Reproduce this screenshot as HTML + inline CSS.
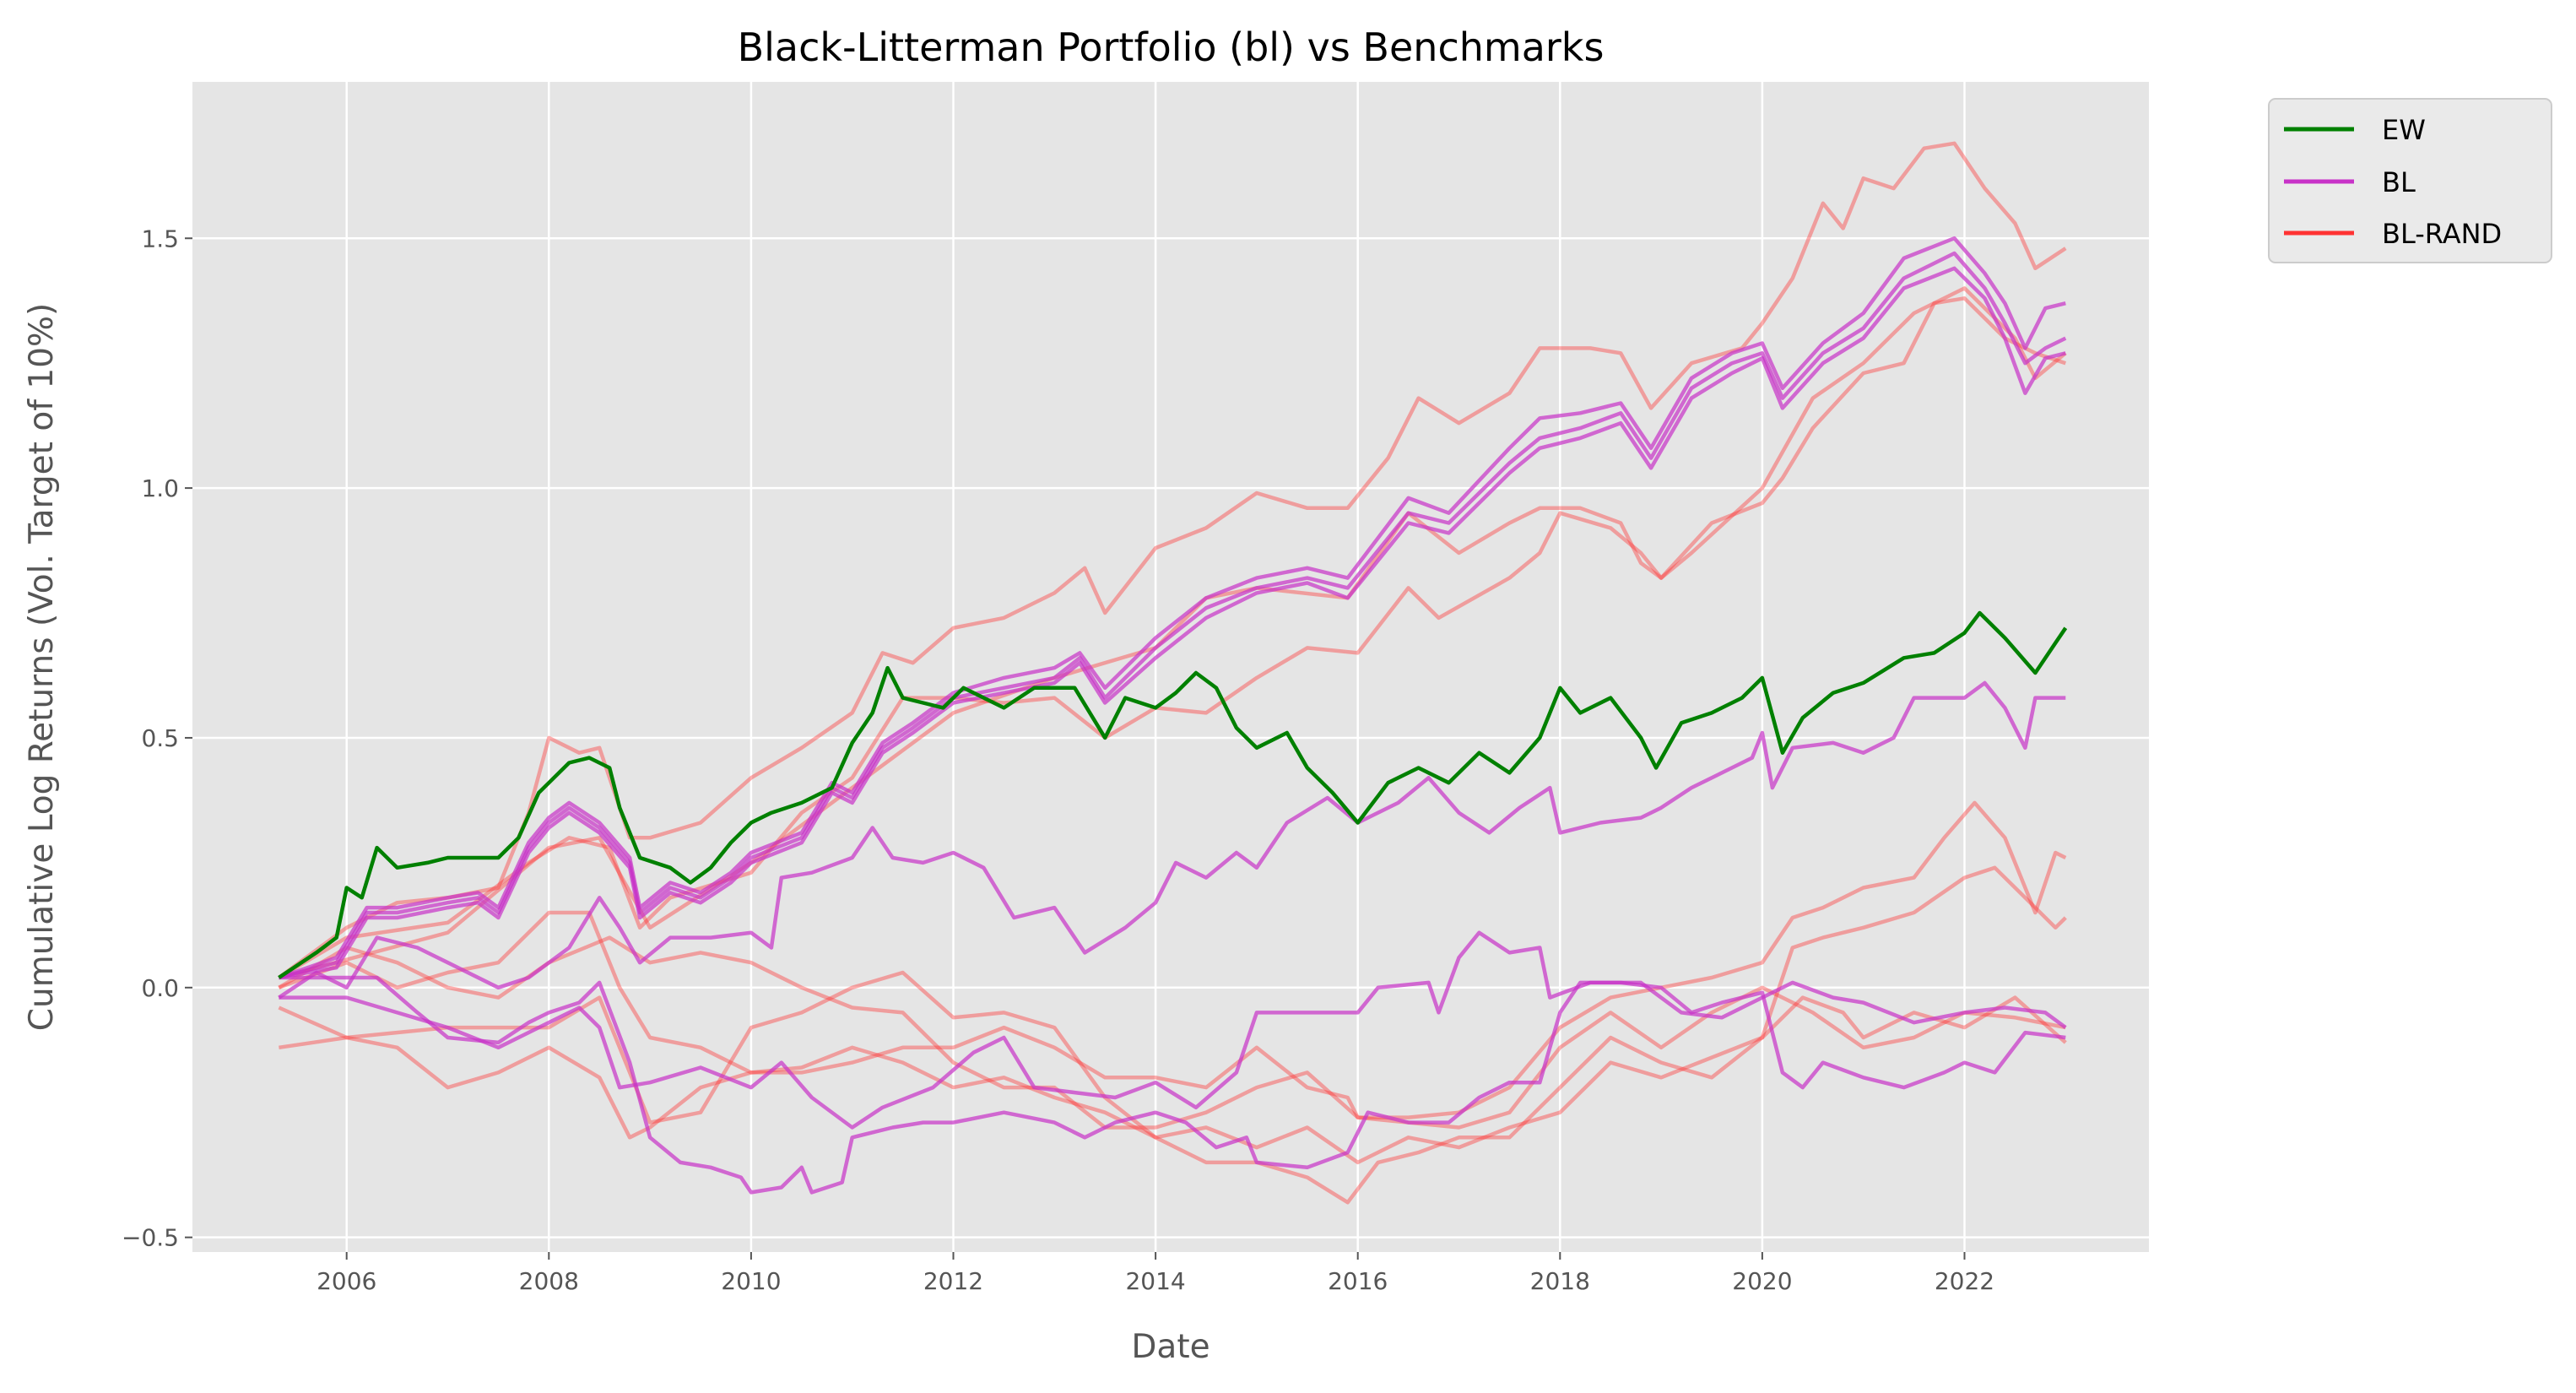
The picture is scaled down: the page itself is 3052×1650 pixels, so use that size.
<!DOCTYPE html>
<html><head><meta charset="utf-8"><style>
html,body{margin:0;padding:0;background:#fff;}
svg{display:block;font-family:"DejaVu Sans","Liberation Sans",sans-serif;}
</style></head><body>
<svg id="chart" width="3052" height="1650" viewBox="0 0 3052 1650" xmlns="http://www.w3.org/2000/svg">
<rect x="228" y="97" width="2318" height="1386" fill="#e5e5e5"/>
<g id="grid"></g>
<g id="series"></g>
<g id="axes"></g>
<text x="1387" y="72" font-size="46" text-anchor="middle" fill="#000">Black-Litterman Portfolio (bl) vs Benchmarks</text>
<text x="1387" y="1608" font-size="39" text-anchor="middle" fill="#555">Date</text>
<text transform="translate(62,790) rotate(-90)" font-size="39" text-anchor="middle" fill="#555">Cumulative Log Returns (Vol. Target of 10%)</text>
<g>
<rect x="2688" y="117" width="335" height="194" rx="8" fill="#e5e5e5" fill-opacity="0.8" stroke="#ccc" stroke-width="2"/>
<line x1="2706" y1="153" x2="2789" y2="153" stroke="#008000" stroke-width="5"/>
<text x="2822" y="165" font-size="32" fill="#000">EW</text>
<line x1="2706" y1="215" x2="2789" y2="215" stroke="#c832c8" stroke-width="5"/>
<text x="2822" y="227" font-size="32" fill="#000">BL</text>
<line x1="2706" y1="276" x2="2789" y2="276" stroke="#ff3333" stroke-width="5"/>
<text x="2822" y="288" font-size="32" fill="#000">BL-RAND</text>
</g>
</svg>
<script>
const xTicks=[2006,2008,2010,2012,2014,2016,2018,2020,2022];
const yTicks=[-0.5,0,0.5,1.0,1.5];
const yTickLabels=["\u22120.5","0.0","0.5","1.0","1.5"];

const ewT=[2005.33,2005.7,2005.9,2006.0,2006.15,2006.3,2006.5,2006.8,2007.0,2007.5,2007.7,2007.9,2008.0,2008.2,2008.4,2008.6,2008.7,2008.9,2009.2,2009.4,2009.6,2009.8,2010.0,2010.2,2010.5,2010.8,2011.0,2011.2,2011.35,2011.5,2011.7,2011.9,2012.1,2012.5,2012.8,2013.2,2013.5,2013.7,2014.0,2014.2,2014.4,2014.6,2014.8,2015.0,2015.3,2015.5,2015.75,2016.0,2016.3,2016.6,2016.9,2017.2,2017.5,2017.8,2018.0,2018.2,2018.5,2018.8,2018.95,2019.2,2019.5,2019.8,2020.0,2020.2,2020.4,2020.7,2021.0,2021.4,2021.7,2022.0,2022.15,2022.4,2022.7,2022.9,2023.0];
const ewV=[0.02,0.07,0.10,0.20,0.18,0.28,0.24,0.25,0.26,0.26,0.30,0.39,0.41,0.45,0.46,0.44,0.36,0.26,0.24,0.21,0.24,0.29,0.33,0.35,0.37,0.40,0.49,0.55,0.64,0.58,0.57,0.56,0.60,0.56,0.60,0.60,0.50,0.58,0.56,0.59,0.63,0.60,0.52,0.48,0.51,0.44,0.39,0.33,0.41,0.44,0.41,0.47,0.43,0.50,0.60,0.55,0.58,0.50,0.44,0.53,0.55,0.58,0.62,0.47,0.54,0.59,0.61,0.66,0.67,0.71,0.75,0.70,0.63,0.69,0.72];

const blT=[2005.33,2005.9,2006.2,2006.5,2007.0,2007.3,2007.5,2007.8,2008.0,2008.2,2008.5,2008.8,2008.9,2009.2,2009.5,2009.8,2010.0,2010.5,2010.8,2011.0,2011.3,2011.6,2012.0,2012.5,2013.0,2013.25,2013.5,2014.0,2014.5,2015.0,2015.5,2015.9,2016.5,2016.9,2017.5,2017.8,2018.2,2018.6,2018.9,2019.3,2019.7,2020.0,2020.2,2020.6,2021.0,2021.4,2021.9,2022.2,2022.4,2022.6,2022.8,2023.0];
const bl1V=[0.02,0.06,0.16,0.16,0.18,0.19,0.16,0.29,0.34,0.37,0.33,0.26,0.16,0.21,0.19,0.23,0.27,0.31,0.41,0.39,0.49,0.53,0.59,0.62,0.64,0.67,0.60,0.70,0.78,0.82,0.84,0.82,0.98,0.95,1.08,1.14,1.15,1.17,1.08,1.22,1.27,1.29,1.20,1.29,1.35,1.46,1.50,1.43,1.37,1.28,1.36,1.37];
const bl2V=[0.02,0.05,0.15,0.15,0.17,0.18,0.15,0.28,0.33,0.36,0.32,0.25,0.15,0.20,0.18,0.22,0.26,0.30,0.40,0.38,0.48,0.52,0.58,0.60,0.62,0.66,0.58,0.68,0.76,0.80,0.82,0.80,0.95,0.93,1.05,1.10,1.12,1.15,1.06,1.20,1.25,1.27,1.18,1.27,1.32,1.42,1.47,1.40,1.33,1.25,1.28,1.30];
const bl3V=[0.02,0.04,0.14,0.14,0.16,0.17,0.14,0.27,0.32,0.35,0.31,0.24,0.14,0.19,0.17,0.21,0.25,0.29,0.39,0.37,0.47,0.51,0.57,0.59,0.61,0.65,0.57,0.66,0.74,0.79,0.81,0.78,0.93,0.91,1.03,1.08,1.10,1.13,1.04,1.18,1.23,1.26,1.16,1.25,1.30,1.40,1.44,1.38,1.30,1.19,1.26,1.27];

const bl4T=[2005.33,2005.7,2006.0,2006.3,2006.7,2007.0,2007.5,2007.8,2008.2,2008.5,2008.7,2008.9,2009.2,2009.6,2010.0,2010.2,2010.3,2010.6,2011.0,2011.2,2011.4,2011.7,2012.0,2012.3,2012.6,2013.0,2013.3,2013.7,2014.0,2014.2,2014.5,2014.8,2015.0,2015.3,2015.7,2016.0,2016.4,2016.7,2017.0,2017.3,2017.6,2017.9,2018.0,2018.4,2018.8,2019.0,2019.3,2019.6,2019.9,2020.0,2020.1,2020.3,2020.7,2021.0,2021.3,2021.5,2021.8,2022.0,2022.2,2022.4,2022.6,2022.7,2023.0];
const bl4V=[-0.02,0.03,0.00,0.10,0.08,0.05,0.00,0.02,0.08,0.18,0.12,0.05,0.10,0.10,0.11,0.08,0.22,0.23,0.26,0.32,0.26,0.25,0.27,0.24,0.14,0.16,0.07,0.12,0.17,0.25,0.22,0.27,0.24,0.33,0.38,0.33,0.37,0.42,0.35,0.31,0.36,0.40,0.31,0.33,0.34,0.36,0.40,0.43,0.46,0.51,0.40,0.48,0.49,0.47,0.50,0.58,0.58,0.58,0.61,0.56,0.48,0.58,0.58];

const bl5T=[2005.33,2005.8,2006.3,2006.7,2007.0,2007.5,2007.8,2008.0,2008.3,2008.5,2008.8,2009.0,2009.3,2009.6,2009.9,2010.0,2010.3,2010.5,2010.6,2010.9,2011.0,2011.4,2011.7,2012.0,2012.5,2013.0,2013.3,2013.6,2014.0,2014.3,2014.6,2014.9,2015.0,2015.5,2015.9,2016.1,2016.5,2016.9,2017.2,2017.5,2017.8,2018.0,2018.2,2018.6,2019.0,2019.3,2019.6,2020.0,2020.2,2020.4,2020.6,2021.0,2021.4,2021.8,2022.0,2022.3,2022.6,2023.0];
const bl5V=[0.02,0.02,0.02,-0.05,-0.10,-0.11,-0.07,-0.05,-0.03,0.01,-0.15,-0.30,-0.35,-0.36,-0.38,-0.41,-0.40,-0.36,-0.41,-0.39,-0.30,-0.28,-0.27,-0.27,-0.25,-0.27,-0.30,-0.27,-0.25,-0.27,-0.32,-0.30,-0.35,-0.36,-0.33,-0.25,-0.27,-0.27,-0.22,-0.19,-0.19,-0.05,0.01,0.01,0.00,-0.05,-0.03,-0.01,-0.17,-0.20,-0.15,-0.18,-0.20,-0.17,-0.15,-0.17,-0.09,-0.10];

const bl6T=[2005.33,2006.0,2006.5,2007.0,2007.5,2008.0,2008.3,2008.5,2008.7,2009.0,2009.5,2010.0,2010.3,2010.6,2011.0,2011.3,2011.8,2012.2,2012.5,2012.8,2013.2,2013.6,2014.0,2014.4,2014.8,2015.0,2015.5,2016.0,2016.2,2016.7,2016.8,2017.0,2017.2,2017.5,2017.8,2017.9,2018.3,2018.8,2019.2,2019.6,2020.0,2020.3,2020.7,2021.0,2021.5,2022.0,2022.4,2022.8,2023.0];
const bl6V=[-0.02,-0.02,-0.05,-0.08,-0.12,-0.07,-0.04,-0.08,-0.20,-0.19,-0.16,-0.20,-0.15,-0.22,-0.28,-0.24,-0.20,-0.13,-0.10,-0.20,-0.21,-0.22,-0.19,-0.24,-0.17,-0.05,-0.05,-0.05,0.00,0.01,-0.05,0.06,0.11,0.07,0.08,-0.02,0.01,0.01,-0.05,-0.06,-0.02,0.01,-0.02,-0.03,-0.07,-0.05,-0.04,-0.05,-0.08];

const r1T=[2005.33,2006.0,2006.5,2007.0,2007.5,2007.8,2008.0,2008.3,2008.5,2008.8,2009.0,2009.5,2010.0,2010.5,2011.0,2011.3,2011.6,2012.0,2012.5,2013.0,2013.3,2013.5,2014.0,2014.5,2015.0,2015.5,2015.9,2016.3,2016.6,2017.0,2017.5,2017.8,2018.3,2018.6,2018.9,2019.3,2019.8,2020.0,2020.3,2020.6,2020.8,2021.0,2021.3,2021.6,2021.9,2022.2,2022.5,2022.7,2023.0];
const r1V=[0.02,0.12,0.17,0.18,0.20,0.35,0.50,0.47,0.48,0.30,0.30,0.33,0.42,0.48,0.55,0.67,0.65,0.72,0.74,0.79,0.84,0.75,0.88,0.92,0.99,0.96,0.96,1.06,1.18,1.13,1.19,1.28,1.28,1.27,1.16,1.25,1.28,1.33,1.42,1.57,1.52,1.62,1.60,1.68,1.69,1.60,1.53,1.44,1.48];

const r2T=[2005.33,2006.0,2007.0,2007.8,2008.2,2008.6,2008.9,2009.2,2010.0,2010.5,2011.0,2011.5,2012.0,2012.5,2013.0,2013.5,2014.0,2014.5,2015.0,2015.5,2016.0,2016.5,2016.8,2017.5,2017.8,2018.0,2018.5,2018.8,2019.0,2019.5,2020.0,2020.2,2020.5,2021.0,2021.4,2021.7,2022.0,2022.4,2022.7,2023.0];
const r2V=[0.02,0.10,0.13,0.25,0.30,0.28,0.12,0.18,0.23,0.35,0.42,0.58,0.58,0.57,0.58,0.50,0.56,0.55,0.62,0.68,0.67,0.80,0.74,0.82,0.87,0.95,0.92,0.87,0.82,0.93,0.97,1.02,1.12,1.23,1.25,1.37,1.38,1.30,1.27,1.25];

const r3T=[2005.33,2007.0,2008.0,2008.5,2009.0,2010.0,2011.0,2012.0,2013.0,2014.0,2014.5,2015.0,2015.9,2016.5,2017.0,2017.5,2017.8,2018.2,2018.6,2018.8,2019.0,2019.3,2020.0,2020.5,2021.0,2021.5,2022.0,2022.5,2022.7,2023.0];
const r3V=[0.02,0.11,0.28,0.30,0.12,0.25,0.40,0.55,0.62,0.68,0.78,0.80,0.78,0.95,0.87,0.93,0.96,0.96,0.93,0.85,0.82,0.87,1.00,1.18,1.25,1.35,1.40,1.30,1.22,1.27];

const r4T=[2005.33,2006.0,2006.5,2007.0,2007.5,2008.0,2008.4,2008.7,2009.0,2009.5,2010.0,2010.5,2011.0,2011.5,2012.0,2012.5,2013.0,2013.5,2014.0,2014.5,2015.0,2015.5,2015.9,2016.0,2016.5,2017.0,2017.5,2018.0,2018.5,2019.0,2019.5,2020.0,2020.3,2020.6,2021.0,2021.5,2021.8,2022.1,2022.4,2022.7,2022.9,2023.0];
const r4V=[0.00,0.05,0.00,0.03,0.05,0.15,0.15,0.00,-0.10,-0.12,-0.17,-0.17,-0.15,-0.12,-0.12,-0.08,-0.12,-0.18,-0.18,-0.20,-0.12,-0.20,-0.22,-0.26,-0.26,-0.25,-0.20,-0.08,-0.02,0.00,0.02,0.05,0.14,0.16,0.20,0.22,0.30,0.37,0.30,0.15,0.27,0.26];

const r5T=[2005.33,2006.0,2007.0,2008.0,2008.5,2009.0,2009.5,2010.0,2010.5,2011.0,2011.5,2012.0,2012.5,2013.0,2013.5,2014.0,2014.5,2015.0,2015.5,2016.0,2016.5,2017.0,2017.5,2018.0,2018.5,2019.0,2019.5,2020.0,2020.3,2020.6,2021.0,2021.5,2022.0,2022.3,2022.6,2022.9,2023.0];
const r5V=[-0.04,-0.10,-0.08,-0.08,-0.02,-0.27,-0.25,-0.08,-0.05,0.00,0.03,-0.06,-0.05,-0.08,-0.22,-0.30,-0.28,-0.32,-0.28,-0.35,-0.30,-0.32,-0.28,-0.25,-0.15,-0.18,-0.14,-0.10,0.08,0.10,0.12,0.15,0.22,0.24,0.18,0.12,0.14];

const r6T=[2005.33,2006.0,2006.5,2007.0,2007.5,2008.0,2008.5,2008.8,2009.0,2009.5,2010.0,2010.5,2011.0,2011.5,2012.0,2012.5,2013.0,2013.5,2014.0,2014.5,2015.0,2015.5,2015.9,2016.2,2016.6,2017.0,2017.5,2018.0,2018.5,2019.0,2019.5,2020.0,2020.4,2020.8,2021.0,2021.5,2022.0,2022.5,2023.0];
const r6V=[-0.12,-0.10,-0.12,-0.20,-0.17,-0.12,-0.18,-0.30,-0.28,-0.20,-0.17,-0.16,-0.12,-0.15,-0.20,-0.18,-0.22,-0.25,-0.30,-0.35,-0.35,-0.38,-0.43,-0.35,-0.33,-0.30,-0.30,-0.20,-0.10,-0.15,-0.18,-0.10,-0.02,-0.05,-0.10,-0.05,-0.08,-0.02,-0.11];

const r7T=[2005.33,2006.0,2006.5,2007.0,2007.5,2008.0,2008.6,2009.0,2009.5,2010.0,2010.5,2011.0,2011.5,2012.0,2012.5,2013.0,2013.5,2014.0,2014.5,2015.0,2015.5,2016.0,2016.5,2017.0,2017.5,2018.0,2018.5,2019.0,2019.5,2020.0,2020.5,2021.0,2021.5,2022.0,2022.5,2023.0];
const r7V=[0.00,0.08,0.05,0.00,-0.02,0.05,0.10,0.05,0.07,0.05,0.00,-0.04,-0.05,-0.15,-0.20,-0.20,-0.28,-0.28,-0.25,-0.20,-0.17,-0.26,-0.27,-0.28,-0.25,-0.12,-0.05,-0.12,-0.05,0.00,-0.05,-0.12,-0.10,-0.05,-0.06,-0.08];

const X0=228,X1=2546,Y0=97,Y1=1483;
function xs(t){return 410.7+(t-2006)*119.8;}
function ys(v){return 1169.8-v*591.7;}
const NS="http://www.w3.org/2000/svg";
const grid=document.getElementById('grid'),axes=document.getElementById('axes'),ser=document.getElementById('series');
function mk(tag,attrs,parent){const e=document.createElementNS(NS,tag);for(const k in attrs)e.setAttribute(k,attrs[k]);parent.appendChild(e);return e;}
xTicks.forEach(t=>{
  const g=mk('line',{x1:xs(t),x2:xs(t),y1:Y0,y2:Y1,stroke:'#fff','stroke-width':2.5},grid);
  
  
  const tk=mk('line',{x1:xs(t),x2:xs(t),y1:Y1,y2:Y1+9,stroke:'#555','stroke-width':2},axes);
  
  
  const tx=mk('text',{x:xs(t),y:Y1+44,'font-size':28,'text-anchor':'middle',fill:'#555'},axes);
  tx.textContent=t;
  
  
});
yTicks.forEach((v,i)=>{
  const g=mk('line',{x1:X0,x2:X1,y1:ys(v),y2:ys(v),stroke:'#fff','stroke-width':2.5},grid);
  
  
  const tk=mk('line',{x1:X0-9,x2:X0,y1:ys(v),y2:ys(v),stroke:'#555','stroke-width':2},axes);
  
  
  const tx=mk('text',{x:X0-16,y:ys(v)+10,'font-size':28,'text-anchor':'end',fill:'#555'},axes);
  tx.textContent=yTickLabels[i];
  
  
});
function line(T,V,color,op,w,name){
  const d=T.map((t,i)=>(i?'L':'M')+xs(t).toFixed(1)+','+ys(V[i]).toFixed(1)).join('');
  const p=mk('path',{d:d,fill:'none',stroke:color,'stroke-opacity':op,'stroke-width':w,'stroke-linejoin':'round'},ser);
  
  
}
line(r1T,r1V,'#ff3333',0.4,4.5,'bl-rand-line-1');
line(r2T,r2V,'#ff3333',0.4,4.5,'bl-rand-line-2');
line(r3T,r3V,'#ff3333',0.4,4.5,'bl-rand-line-3');
line(r4T,r4V,'#ff3333',0.4,4.5,'bl-rand-line-4');
line(r5T,r5V,'#ff3333',0.4,4.5,'bl-rand-line-5');
line(r6T,r6V,'#ff3333',0.4,4.5,'bl-rand-line-6');
line(r7T,r7V,'#ff3333',0.4,4.5,'bl-rand-line-7');
line(bl4T,bl4V,'#c832c8',0.7,4.5,'bl-line-4');
line(bl5T,bl5V,'#c832c8',0.7,4.5,'bl-line-5');
line(bl6T,bl6V,'#c832c8',0.7,4.5,'bl-line-6');
line(blT,bl1V,'#c832c8',0.7,4.5,'bl-line-1');
line(blT,bl2V,'#c832c8',0.7,4.5,'bl-line-2');
line(blT,bl3V,'#c832c8',0.7,4.5,'bl-line-3');
line(ewT,ewV,'#008000',1,4.5,'ew-line');
</script>
</body></html>
